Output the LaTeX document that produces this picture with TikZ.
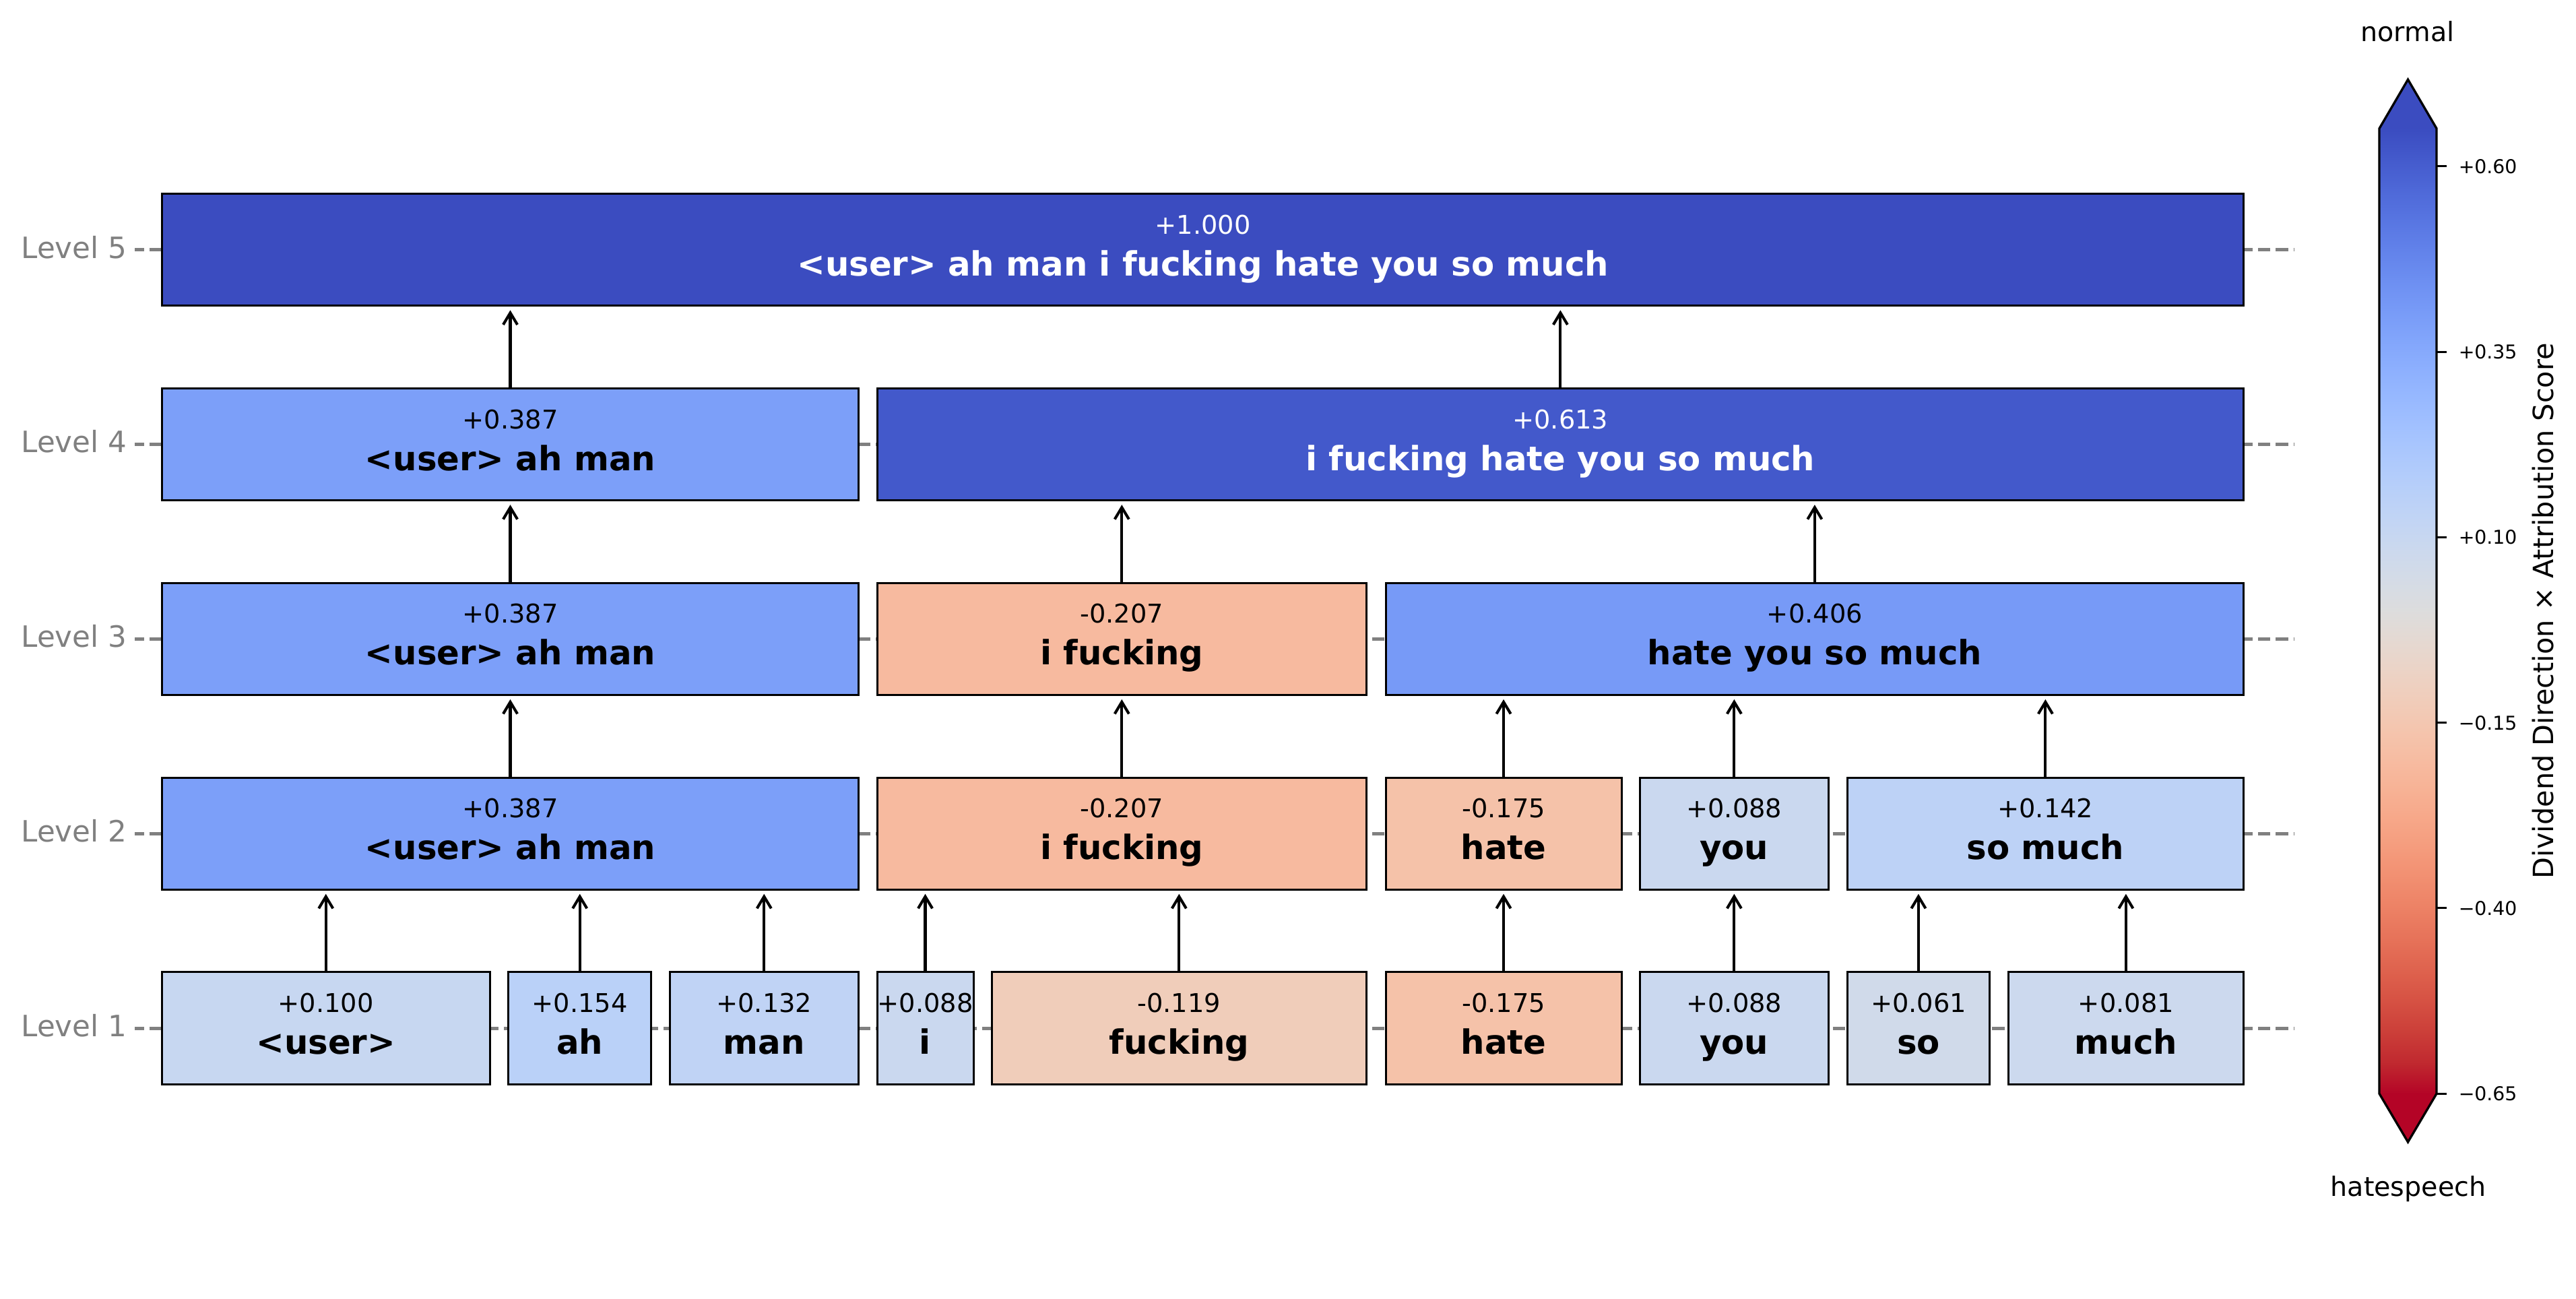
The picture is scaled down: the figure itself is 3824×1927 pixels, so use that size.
\documentclass[tikz,border=0pt]{standalone}
\usepackage{fontspec}
\setmainfont{DejaVu Sans}
\usetikzlibrary{arrows.meta}

\definecolor{cw0}{rgb}{0.2298057,0.298717966,0.753683153}
\definecolor{cw1}{rgb}{0.26623388,0.353094838,0.801466763}
\definecolor{cw2}{rgb}{0.30386891,0.406535296,0.84495867}
\definecolor{cw3}{rgb}{0.342804478,0.458757618,0.883725899}
\definecolor{cw4}{rgb}{0.38301334,0.50941904,0.917387822}
\definecolor{cw5}{rgb}{0.424369608,0.558148092,0.945619588}
\definecolor{cw6}{rgb}{0.46666708,0.604562568,0.968154911}
\definecolor{cw7}{rgb}{0.509635204,0.648280772,0.98478814}
\definecolor{cw8}{rgb}{0.552953156,0.688929332,0.995375608}
\definecolor{cw9}{rgb}{0.596262162,0.726149107,0.999836203}
\definecolor{cw10}{rgb}{0.639176211,0.759599947,0.998151185}
\definecolor{cw11}{rgb}{0.681291281,0.788964712,0.990363227}
\definecolor{cw12}{rgb}{0.722193294,0.813952739,0.976574709}
\definecolor{cw13}{rgb}{0.761464949,0.834302879,0.956945269}
\definecolor{cw14}{rgb}{0.798691636,0.849786142,0.931688648}
\definecolor{cw15}{rgb}{0.833466556,0.860207984,0.901068838}
\definecolor{cw16}{rgb}{0.865395197,0.86541021,0.865395561}
\definecolor{cw17}{rgb}{0.897787179,0.848937047,0.820880546}
\definecolor{cw18}{rgb}{0.924127593,0.827384882,0.774508472}
\definecolor{cw19}{rgb}{0.944468518,0.800927443,0.726736146}
\definecolor{cw20}{rgb}{0.958852946,0.769767752,0.678007945}
\definecolor{cw21}{rgb}{0.96732803,0.734132809,0.628751763}
\definecolor{cw22}{rgb}{0.969954137,0.694266682,0.579375448}
\definecolor{cw23}{rgb}{0.966811177,0.650421156,0.530263762}
\definecolor{cw24}{rgb}{0.958003065,0.602842431,0.481775914}
\definecolor{cw25}{rgb}{0.943660866,0.551750968,0.434243684}
\definecolor{cw26}{rgb}{0.923944917,0.49730856,0.387970225}
\definecolor{cw27}{rgb}{0.89904617,0.439559467,0.343229596}
\definecolor{cw28}{rgb}{0.869186849,0.378313092,0.300267182}
\definecolor{cw29}{rgb}{0.834620542,0.312874446,0.259301199}
\definecolor{cw30}{rgb}{0.795631745,0.24128379,0.220525627}
\definecolor{cw31}{rgb}{0.752534934,0.157246067,0.184115123}
\definecolor{cw32}{rgb}{0.705673158,0.01555616,0.150232812}

\definecolor{lvgray}{HTML}{808080}
\definecolor{cA}{HTML}{C7D7F1}% +0.100
\definecolor{cB}{HTML}{BAD1F8}% +0.154
\definecolor{cC}{HTML}{C0D3F5}% +0.132
\definecolor{cD}{HTML}{CAD8EF}% +0.088
\definecolor{cE}{HTML}{F0CDBA}% -0.119
\definecolor{cF}{HTML}{F5C2A9}% -0.175
\definecolor{cG}{HTML}{D0DAEA}% +0.061
\definecolor{cH}{HTML}{CCD9EE}% +0.081
\definecolor{cI}{HTML}{7C9FF9}% +0.387
\definecolor{cJ}{HTML}{F7BA9F}% -0.207
\definecolor{cK}{HTML}{BDD2F6}% +0.142
\definecolor{cL}{HTML}{779AF7}% +0.406
\definecolor{cM}{HTML}{4359CB}% +0.613
\definecolor{cN}{HTML}{3B4CC0}% +1.000

\tikzset{
  tbox/.style={draw=black, line width=0.85pt, rectangle, inner sep=0pt, minimum height=1.66cm},
  numtxt/.style={anchor=base, inner sep=0pt, font=\fontsize{10.9}{13}\selectfont},
  wordtxt/.style={anchor=base, inner sep=0pt, font=\fontsize{14.15}{17}\selectfont\bfseries},
  arr/.style={-{Straight Barb[length=5pt,width=6pt]}, line width=1.15pt, shorten >=0.05cm},
  lvl/.style={anchor=base east, inner sep=0pt, text=lvgray, font=\fontsize{12.4}{15}\selectfont},
  levelline/.style={draw=lvgray, line width=1.42pt, dash pattern=on 5.26pt off 2.22pt, dash phase=1.31pt},
  cbtick/.style={anchor=base west, inner sep=0pt, font=\fontsize{8.05}{10}\selectfont},
}

\newcommand\tokbox[8]{%
  \node[tbox, fill=#5, minimum width={(#3-#2)*0.01cm}] (#1) at ({(#2+#3)/2},#4) {};
  \node[numtxt, text=#8] (#1v) at ([yshift=0.235cm]#1.center) {#6};
  \node[wordtxt, text=#8] (#1w) at ([yshift=-0.385cm]#1.center) {#7};
}

\begin{document}
\begin{tikzpicture}[x=0.01cm, y=-0.01cm]
\fill[white] (0,0) rectangle (3824,1927);
\useasboundingbox (0,0) rectangle (3824,1927);

% level lines
\foreach \yy in {370.8,659.6,948.4,1237.2,1526}{
  \draw[levelline] (200,\yy) -- (3405.7,\yy);
}
\node[lvl] (lv5) at (189,383.1) {Level 5};
\node[lvl] (lv4) at (189,671.9) {Level 4};
\node[lvl] (lv3) at (189,960.7) {Level 3};
\node[lvl] (lv2) at (189,1249.5) {Level 2};
\node[lvl] (lv1) at (189,1538.3) {Level 1};

% Level 1
\tokbox{uA}{240.5}{727}{1526}{cA}{+0.100}{<user>}{black}
\tokbox{ahA}{754.6}{966.8}{1526}{cB}{+0.154}{ah}{black}
\tokbox{manA}{994}{1274.5}{1526}{cC}{+0.132}{man}{black}
\tokbox{iA}{1302}{1445}{1526}{cD}{+0.088}{i}{black}
\tokbox{fkA}{1472}{2028.6}{1526}{cE}{-0.119}{fucking}{black}
\tokbox{hateA}{2057}{2407}{1526}{cF}{-0.175}{hate}{black}
\tokbox{youA}{2434}{2714.7}{1526}{cD}{+0.088}{you}{black}
\tokbox{soA}{2742}{2953.8}{1526}{cG}{+0.061}{so}{black}
\tokbox{muchA}{2981}{3330.7}{1526}{cH}{+0.081}{much}{black}

% Level 2
\tokbox{uamB}{240.5}{1274.5}{1237.2}{cI}{+0.387}{<user> ah man}{black}
\tokbox{ifkB}{1302}{2028.6}{1237.2}{cJ}{-0.207}{i fucking}{black}
\tokbox{hateB}{2057}{2407}{1237.2}{cF}{-0.175}{hate}{black}
\tokbox{youB}{2434}{2714.7}{1237.2}{cD}{+0.088}{you}{black}
\tokbox{smB}{2742}{3330.7}{1237.2}{cK}{+0.142}{so much}{black}

% Level 3
\tokbox{uamC}{240.5}{1274.5}{948.4}{cI}{+0.387}{<user> ah man}{black}
\tokbox{ifkC}{1302}{2028.6}{948.4}{cJ}{-0.207}{i fucking}{black}
\tokbox{hysmC}{2057}{3330.7}{948.4}{cL}{+0.406}{hate you so much}{black}

% Level 4
\tokbox{uamD}{240.5}{1274.5}{659.6}{cI}{+0.387}{<user> ah man}{black}
\tokbox{restD}{1302}{3330.7}{659.6}{cM}{+0.613}{i fucking hate you so much}{white}

% Level 5
\tokbox{allE}{240.5}{3330.7}{370.8}{cN}{+1.000}{<user> ah man i fucking hate you so much}{white}

% arrows L1 -> L2
\draw[arr] (uA.north) -- (uA.north |- uamB.south);
\draw[arr] (ahA.north) -- (ahA.north |- uamB.south);
\draw[arr] (manA.north) -- (manA.north |- uamB.south);
\draw[arr] (iA.north) -- (iA.north |- ifkB.south);
\draw[arr] (fkA.north) -- (fkA.north |- ifkB.south);
\draw[arr] (hateA.north) -- (hateA.north |- hateB.south);
\draw[arr] (youA.north) -- (youA.north |- youB.south);
\draw[arr] (soA.north) -- (soA.north |- smB.south);
\draw[arr] (muchA.north) -- (muchA.north |- smB.south);
% L2 -> L3
\draw[arr] (uamB.north) -- (uamB.north |- uamC.south);
\draw[arr] (ifkB.north) -- (ifkB.north |- ifkC.south);
\draw[arr] (hateB.north) -- (hateB.north |- hysmC.south);
\draw[arr] (youB.north) -- (youB.north |- hysmC.south);
\draw[arr] (smB.north) -- (smB.north |- hysmC.south);
% L3 -> L4
\draw[arr] (uamC.north) -- (uamC.north |- uamD.south);
\draw[arr] (ifkC.north) -- (ifkC.north |- restD.south);
\draw[arr] (hysmC.north) -- (hysmC.north |- restD.south);
% L4 -> L5
\draw[arr] (uamD.north) -- (uamD.north |- allE.south);
\draw[arr] (restD.north) -- (restD.north |- allE.south);

% colorbar
\foreach \k in {0,...,31}{
  \pgfmathtruncatemacro{\kn}{\k+1}
  \shade[top color=cw\k, bottom color=cw\kn] (3532,{190.7+\k*44.766}) rectangle (3617,{191.7+(\k+1)*44.766});
}
\fill[cw0] (3532,191.2) -- (3574.5,118) -- (3617,191.2) -- cycle;
\fill[cw32] (3532,1622.7) -- (3574.5,1695) -- (3617,1622.7) -- cycle;
\draw[line width=0.95pt, line join=miter] (3532,190.7) -- (3574.5,118) -- (3617,190.7) -- (3617,1623.2) -- (3574.5,1695) -- (3532,1623.2) -- cycle;

\foreach \ty/\tl [count=\n] in {246.7/+0.60, 522/+0.35, 797.3/+0.10, 1072.6/−0.15, 1347.9/−0.40, 1623.2/−0.65}{
  \draw[line width=0.85pt] (3617,\ty) -- (3632,\ty);
  \node[cbtick] (tick\n) at (3649,\ty+10.5) {\tl};
}

\node[anchor=base, inner sep=0pt, font=\fontsize{11.27}{14}\selectfont] (normal) at (3574,61.7) {normal};
\node[anchor=base, inner sep=0pt, font=\fontsize{11.27}{14}\selectfont] (hate) at (3575,1775) {hatespeech};
\node[rotate=90, anchor=base, inner sep=0pt, font=\fontsize{11.78}{14}\selectfont] (cblabel) at (3790,906.6) {Dividend Direction × Attribution Score};
\end{tikzpicture}
\end{document}
